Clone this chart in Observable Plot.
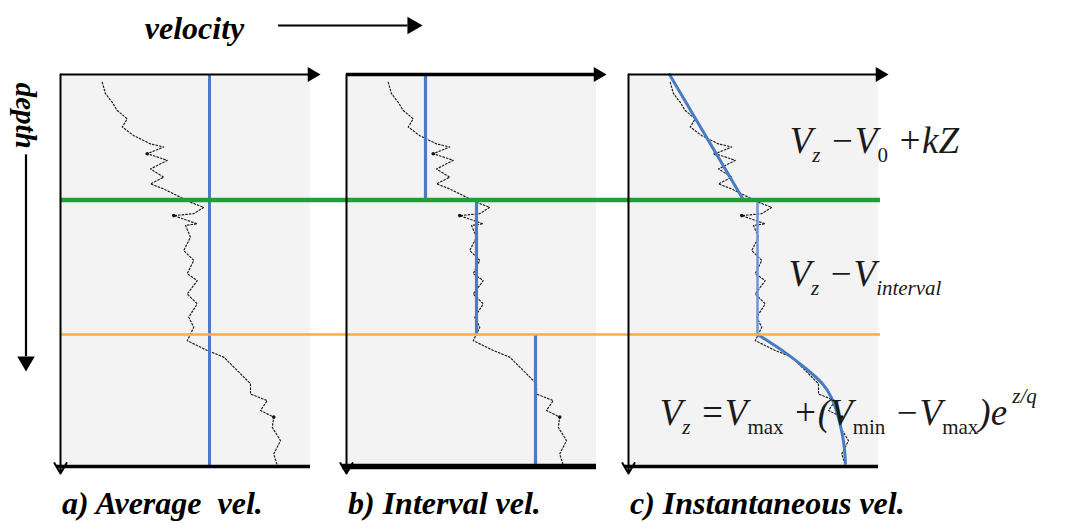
<!DOCTYPE html>
<html><head><meta charset="utf-8">
<script src="https://cdn.jsdelivr.net/npm/d3@7"></script>
<script src="https://cdn.jsdelivr.net/npm/@observablehq/plot@0.6"></script>
<style>body{margin:0;background:#fff}</style>
</head><body><div id="chart"></div>
<script>
// ---------- data (velocity in relative units 0-100, depth in relative units 0-100) ----------
const panels = ["a", "b", "c"];
const panelLabels = ["a) Average  vel.", "b) Interval vel.", "c) Instantaneous vel."];
const axisTitleX = "velocity";
const axisTitleY = "depth";

// sonic-log style velocity trace (same log shown in every panel)
const logDepth = [2.0, 4.9, 7.1, 9.2, 11.3, 13.4, 15.6, 17.7, 18.5, 20.2, 21.9, 24.1, 26.2, 27.9, 29.2, 30.9, 32.6, 33.9, 35.5, 36.0, 38.1, 38.5, 41.5, 44.9, 47.4, 50.8, 52.6, 56.0, 58.5, 61.9, 64.5, 67.9, 70.4, 72.1, 75.5, 78.9, 81.5, 83.2, 85.7, 87.4, 90.0, 93.4, 96.8, 99.7];
const logVelocity = [16.7, 18.0, 20.7, 22.7, 26.7, 24.7, 29.3, 36.0, 41.3, 34.7, 42.7, 36.0, 41.3, 36.0, 41.3, 46.7, 52.0, 57.3, 53.3, 45.3, 54.7, 50.0, 52.0, 49.3, 53.3, 50.7, 54.7, 50.7, 54.7, 51.3, 53.3, 50.7, 58.7, 65.3, 70.7, 76.0, 76.0, 82.7, 80.0, 85.3, 84.7, 88.0, 85.3, 86.7];

// layer boundaries (depth)
const boundaryDepths = [32, 66.3];

// a) average velocity
const averageVelocity = 59.6;

// b) interval velocities per layer
const layerTop = [0, 32, 66.3];
const layerBottom = [32, 66.3, 100];
const intervalVelocity = [31.6, 52, 75.6];

// c) instantaneous velocity functions
const linearFitDepth = [0, 32];
const linearFitVelocity = [16.4, 46];
const constantFitDepth = [32, 66.3];
const constantFitVelocity = [51.6, 51.6];
const expFitDepth = [66.3, 71.2, 75.0, 78.8, 82.5, 86.5, 90.0, 93.4, 96.0, 99.2];
const expFitVelocity = [51.6, 63.6, 71.0, 78.0, 81.5, 83.6, 85.0, 86.0, 86.5, 86.8];

// equations (parts: t = text, sub = subscript, sup = superscript, up = upright)
const equations = [
  [{t: "V"}, {t: "z", sub: 1}, {t: " −"}, {t: "V"}, {t: "0", sub: 1, up: 1}, {t: " +"}, {t: "kZ"}],
  [{t: "V"}, {t: "z", sub: 1}, {t: " −"}, {t: "V"}, {t: "interval", sub: 1}],
  [{t: "V"}, {t: "z", sub: 1}, {t: " ="}, {t: "V"}, {t: "max", sub: 1, up: 1}, {t: " +"}, {t: "("}, {t: "V"}, {t: "min", sub: 1, up: 1}, {t: " −"}, {t: "V"}, {t: "max", sub: 1, up: 1}, {t: ")e"}, {t: " z/q", sup: 1}]
];
const equationText = equations.map(parts => parts.map(p => p.t).join(""));

// ---------- layout ----------
const off = [0, 114.4, 227.2];           // horizontal offset of each panel
const P = panels.map((p, i) => ({p, i, off: off[i], label: panelLabels[i]}));
const logRows = P.flatMap(pp => logDepth.map((d, j) => ({panel: pp.p, x: pp.off + logVelocity[j], y: d})));
const toRows = (ds, vs, o) => ds.map((d, j) => ({x: o + vs[j], y: d}));
const eqRows = [
  {x: off[2] + 64.5, y: 20.0},
  {x: off[2] + 64.0, y: 54.0},
  {x: off[2] + 12.5, y: 89.5}
].map((r, i) => ({...r, text: equationText[i]}));

const blue = "#4a7cc4";
const serif = "Liberation Serif, Times New Roman, serif";

const chart = Plot.plot({
  width: 1068, height: 529,
  marginLeft: 60, marginRight: 190, marginTop: 74, marginBottom: 63,
  x: {domain: [0, 327.2], axis: null},
  y: {domain: [0, 100], reverse: true, axis: null},
  style: {fontFamily: serif, background: "#fff"},
  marks: [
    // panel backgrounds
    Plot.rect(P, {x1: d => d.off, x2: d => d.off + 100, y1: 0, y2: 100, fill: "#f3f3f3"}),
    // log trace
    Plot.line(logRows, {x: "x", y: "y", z: "panel", stroke: "#222", strokeWidth: 1.2, strokeDasharray: "1.6,2"}),
    Plot.dot(logRows.filter((d, j) => j % 44 === 9 || j % 44 === 19 || j % 44 === 39), {x: "x", y: "y", r: 1.8, fill: "#111"}),
    // a) average velocity
    Plot.ruleX([averageVelocity], {x: v => off[0] + v, y1: 0, y2: 100, stroke: blue, strokeWidth: 3}),
    // b) interval velocities
    Plot.ruleX(intervalVelocity.map((v, i) => ({v, t: layerTop[i], b: layerBottom[i]})),
      {x: d => off[1] + d.v, y1: "t", y2: "b", stroke: blue, strokeWidth: 3.2}),
    // c) instantaneous velocity
    Plot.line(toRows(linearFitDepth, linearFitVelocity, off[2]), {x: "x", y: "y", stroke: blue, strokeWidth: 3}),
    Plot.line(toRows(constantFitDepth, constantFitVelocity, off[2]), {x: "x", y: "y", stroke: "#6f97d6", strokeWidth: 2.5}),
    Plot.line(toRows(expFitDepth, expFitVelocity, off[2]), {x: "x", y: "y", stroke: blue, strokeWidth: 3, curve: "basis"}),
    // layer boundaries
    Plot.ruleY([boundaryDepths[0]], {x1: 0, x2: off[2] + 100.8, stroke: "#1f9e3a", strokeWidth: 4.5}),
    Plot.ruleY([boundaryDepths[1]], {x1: 0, x2: off[2] + 100.8, stroke: "#f5ae48", strokeWidth: 2.5}),
    // panel axes: top velocity arrow
    Plot.ruleY(P, {y: 0, x1: d => d.off, x2: d => d.off + 100, stroke: "#000", strokeWidth: d => d.i === 1 ? 3.5 : 2}),
    Plot.dot(P, {x: d => d.off + 100.6, y: 0, symbol: "triangle", rotate: 90, r: 5.5, fill: "#000"}),
    // left depth axis with small arrow head
    Plot.arrow(P, {x1: d => d.off, x2: d => d.off, y1: 0, y2: 101.8, stroke: "#000", strokeWidth: 2, headLength: 9}),
    // bottom line
    Plot.ruleY(P, {y: 100, x1: d => d.off - 1.5, x2: d => d.off + 100, stroke: "#000", strokeWidth: d => d.i === 1 ? 5.5 : 3.5}),
    // panel labels
    Plot.text(P, {x: d => d.off + 0.6, y: 112.0, text: "label", textAnchor: "start", lineAnchor: "bottom",
      fontSize: 32, fontWeight: "bold", fontStyle: "italic", fill: "#000"}),
    // velocity title + arrow
    Plot.text([axisTitleX], {x: 53.6, y: -11.6, text: d => d, fontSize: 32, fontWeight: "bold", fontStyle: "italic", fill: "#000"}),
    Plot.ruleY([axisTitleX], {y: -12.5, x1: 87.2, x2: 139, stroke: "#000", strokeWidth: 2}),
    Plot.dot([axisTitleX], {x: 140.8, y: -12.5, symbol: "triangle", rotate: 90, r: 6.5, fill: "#000"}),
    // depth title + arrow
    Plot.text([axisTitleY], {x: -14.2, y: 10.5, text: d => d, rotate: 90, fontSize: 29, fontWeight: "bold", fontStyle: "italic", fill: "#000"}),
    Plot.ruleX([axisTitleY], {x: -13.8, y1: 20.5, y2: 72, stroke: "#000", strokeWidth: 2.2}),
    Plot.dot([axisTitleY], {x: -13.8, y: 73.2, symbol: "triangle", rotate: 180, r: 6.5, fill: "#000"}),
    // equations
    Plot.text(eqRows, {x: "x", y: "y", text: "text", textAnchor: "start", lineAnchor: "bottom",
      fontSize: 37, fontStyle: "italic", fill: "#1a1a1a"})
  ]
});

// typeset sub/superscripts in the equations
chart.querySelectorAll("text").forEach(el => {
  const i = equationText.indexOf(el.textContent);
  if (i < 0) return;
  const parts = equations[i];
  el.textContent = "";
  let shift = 0;
  for (const part of parts) {
    const ts = document.createElementNS("http://www.w3.org/2000/svg", "tspan");
    const target = part.sub ? 9 : part.sup ? -22 : 0;
    ts.setAttribute("dy", target - shift);
    shift = target;
    if (part.sub || part.sup) ts.setAttribute("font-size", part.sup ? 21 : 21);
    if (part.up) ts.setAttribute("font-style", "normal");
    ts.textContent = part.t;
    el.appendChild(ts);
  }
});

document.getElementById("chart").appendChild(chart);
</script>
</body></html>
